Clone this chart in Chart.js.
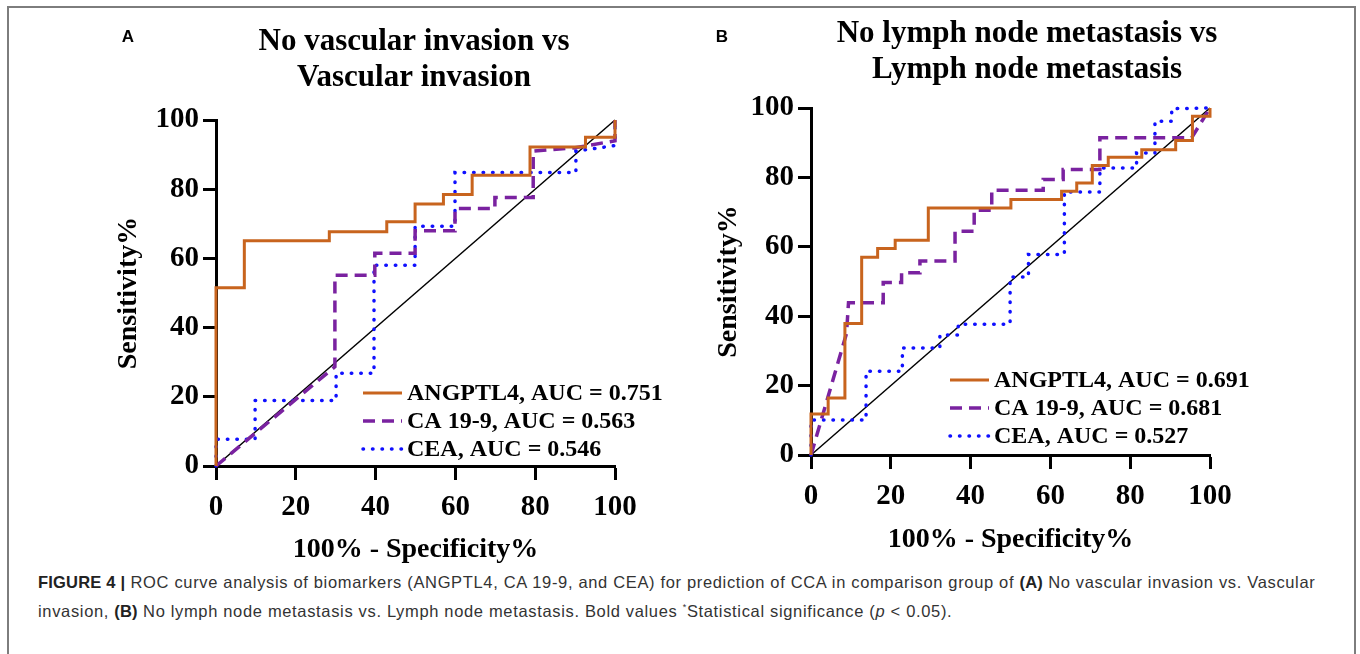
<!DOCTYPE html>
<html>
<head>
<meta charset="utf-8">
<script src="https://cdn.jsdelivr.net/npm/chart.js@4.4.1/dist/chart.umd.min.js"></script>
<style>
  body { margin: 0; width: 1360px; height: 654px; background: #fff; overflow: hidden; position: relative; }
  #frame { position: absolute; left: 7px; top: 6px; width: 1349px; height: 720px; border: 2px solid #7d7d7d; box-sizing: border-box; }
  #wrapA { position: absolute; left: 0; top: 0; }
  #wrapB { position: absolute; left: 680px; top: 0; }
  #caption { position: absolute; left: 38px; top: 570px; font-family: "Liberation Sans", Arial, sans-serif; font-size: 16.5px; letter-spacing: 0.66px; line-height: 25px; color: #333; white-space: nowrap; }
  #caption b { color: #222; letter-spacing: 0.2px; }
  #caption sup { font-size: 9px; }
</style>
</head>
<body>
<div id="frame"></div>
<div id="wrapA"><canvas id="chartA" width="680" height="567"></canvas></div>
<div id="wrapB"><canvas id="chartB" width="680" height="557"></canvas></div>
<div id="caption"><b>FIGURE 4 |</b> ROC curve analysis of biomarkers (ANGPTL4, CA 19-9, and CEA) for prediction of CCA in comparison group of <b>(A)</b> No vascular invasion vs. Vascular<br>invasion, <b>(B)</b> No lymph node metastasis vs. Lymph node metastasis. Bold values <sup>*</sup>Statistical significance (<i>p</i> &lt; 0.05).</div>
<script>
// ROC curves: x = 100% - Specificity%, y = Sensitivity%

// A: No vascular invasion vs Vascular invasion
const angptl4A_x = [0, 0, 7.1, 7.1, 28.4, 28.4, 42.8, 42.8, 49.9, 49.9, 57, 57, 64.2, 64.2, 78.7, 78.7, 92.6, 92.6, 100, 100];
const angptl4A_y = [0, 51.5, 51.5, 65.1, 65.1, 67.7, 67.7, 70.6, 70.6, 75.7, 75.7, 78.5, 78.5, 84, 84, 92.2, 92.2, 95, 95, 100];
const ca199A_x = [0, 29.8, 29.8, 39.8, 39.8, 49.9, 49.9, 59.9, 59.9, 69.9, 69.9, 79.5, 79.5, 90, 100, 100];
const ca199A_y = [0, 28.7, 55.1, 55.1, 61.5, 61.5, 68, 68, 74.4, 74.4, 77.6, 77.6, 91, 92, 94, 100];
const ceaA_x = [0, 0, 9.8, 9.8, 30.1, 30.1, 39.6, 39.6, 49.9, 49.9, 59.9, 59.9, 90.2, 90.2, 100, 100];
const ceaA_y = [0, 7.7, 7.7, 18.9, 18.9, 26.8, 26.8, 58, 58, 69.3, 69.3, 84.8, 84.8, 91, 92.6, 100];

// B: No lymph node metastasis vs Lymph node metastasis
const angptl4B_x = [0, 0, 4.3, 4.3, 8.5, 8.5, 12.7, 12.7, 16.7, 16.7, 21.1, 21.1, 29.4, 29.4, 50.1, 50.1, 62.8, 62.8, 66.6, 66.6, 70.5, 70.5, 74.5, 74.5, 82.9, 82.9, 91.4, 91.4, 95.6, 95.6, 100, 100];
const angptl4B_y = [0, 11.8, 11.8, 16.4, 16.4, 37.9, 37.9, 57, 57, 59.5, 59.5, 61.9, 61.9, 71.2, 71.2, 73.6, 73.6, 76, 76, 78.4, 78.4, 83.4, 83.4, 85.8, 85.8, 88, 88, 90.6, 90.6, 97.6, 97.6, 100];
const ca199B_x = [0, 8.9, 9.4, 18.1, 18.1, 22.7, 22.7, 27.3, 27.3, 36.1, 36.1, 40.9, 40.9, 45.3, 45.3, 58.2, 58.2, 63.2, 63.2, 72.4, 72.4, 95.4, 100];
const ca199B_y = [0, 35, 43.9, 43.9, 49.7, 49.7, 52.5, 52.5, 55.9, 55.9, 64.5, 64.5, 70.5, 70.5, 76.3, 76.3, 79.4, 79.4, 82.3, 82.3, 91.4, 91.4, 100];
const ceaB_x = [0, 0, 13.8, 13.8, 22.9, 22.9, 32.3, 32.3, 36.9, 36.9, 49.9, 49.9, 54.5, 54.5, 63.5, 63.5, 72.4, 72.4, 81.6, 81.6, 86.2, 86.2, 90.4, 90.4, 100];
const ceaB_y = [0, 10.1, 10.1, 24.1, 24.1, 30.8, 30.8, 34.6, 34.6, 37.7, 37.7, 51.3, 51.3, 57.8, 57.8, 75.8, 75.8, 82.7, 82.7, 87, 87, 96.2, 96.2, 99.8, 100];

const diag_x = [0, 100];
const diag_y = [0, 100];

const aucA = ['0.751', '0.563', '0.546'];
const aucB = ['0.691', '0.681', '0.527'];
const axisTicks = [0, 20, 40, 60, 80, 100];

const SERIF = '"Liberation Serif", "Times New Roman", serif';
const COLORS = { angptl4: '#c8641e', ca199: '#7a22a0', cea: '#1010ff' };

function pts(xs, ys) {
    return xs.map((x, i) => ({ x, y: ys[i] }));
}

function rocDatasets(a, c, e, auc) {
    return [
        { label: 'ANGPTL4, AUC = ' + auc[0], data: a, borderColor: COLORS.angptl4, borderWidth: 3 },
        { label: 'CA 19-9, AUC = ' + auc[1], data: c, borderColor: COLORS.ca199, borderWidth: 3.5, borderDash: [12, 7] },
        { label: 'CEA, AUC = ' + auc[2], data: e, borderColor: COLORS.cea, borderWidth: 3.5, borderDash: [0.5, 9], borderCapStyle: 'round' },
        { label: '', data: pts(diag_x, diag_y), borderColor: '#000', borderWidth: 1.5 }
    ].map(ds => Object.assign({ pointRadius: 0, fill: false, tension: 0, clip: 6 }, ds));
}

// titles + panel letter
const titlePlugin = {
    id: 'panelTitle',
    afterDraw(chart, args, opts) {
        const ctx = chart.ctx;
        ctx.save();
        ctx.fillStyle = '#000';
        ctx.textAlign = 'center';
        ctx.textBaseline = 'middle';
        ctx.font = 'bold 31px ' + SERIF;
        opts.lines.forEach((t, i) => ctx.fillText(t, opts.x, opts.y + i * 36));
        ctx.font = 'bold 17px "Liberation Sans", Arial, sans-serif';
        ctx.fillText(opts.letter, opts.letterX, 37);
        ctx.restore();
    }
};

// legend drawn inside the plot
const rocLegend = {
    id: 'rocLegend',
    afterDatasetsDraw(chart, args, opts) {
        const ctx = chart.ctx;
        ctx.save();
        ctx.font = 'bold 24px ' + SERIF;
        ctx.textBaseline = 'middle';
        ctx.textAlign = 'left';
        chart.data.datasets.filter(ds => ds.label).forEach((ds, i) => {
            const y = opts.y + i * opts.gap;
            ctx.strokeStyle = ds.borderColor;
            ctx.lineWidth = ds.borderWidth;
            ctx.lineCap = ds.borderCapStyle || 'butt';
            ctx.setLineDash(ds.borderDash || []);
            ctx.beginPath();
            ctx.moveTo(opts.x, y);
            ctx.lineTo(opts.x + 39, y);
            ctx.stroke();
            ctx.setLineDash([]);
            ctx.fillStyle = '#000';
            ctx.fillText(ds.label, opts.x + 44, y + 1);
        });
        ctx.restore();
    }
};

function axisFont() {
    return { family: SERIF, weight: 'bold', size: 29 };
}

function makeChart(id, datasets, cfg) {
    const ctx = document.getElementById(id).getContext('2d');
    return new Chart(ctx, {
        type: 'line',
        data: { datasets },
        plugins: [titlePlugin, rocLegend],
        options: {
            responsive: false,
            animation: false,
            layout: { padding: { left: cfg.padLeft, right: cfg.padRight, top: cfg.padTop, bottom: 0 } },
            scales: {
                x: {
                    type: 'linear', min: 0, max: 100,
                    afterFit: s => { s.height = cfg.xHeight; },
                    afterBuildTicks: s => { s.ticks = axisTicks.map(v => ({ value: v })); },
                    ticks: { color: '#000', font: axisFont(), padding: 10, maxRotation: 0 },
                    grid: { drawOnChartArea: false, drawTicks: true, tickLength: 14, tickWidth: 3, tickColor: '#000' },
                    border: { width: 3, color: '#000' },
                    title: { display: true, text: '100% - Specificity%', color: '#000', font: { family: SERIF, weight: 'bold', size: 28 }, padding: 0 }
                },
                y: {
                    min: 0, max: 100,
                    afterFit: s => { s.width = cfg.yWidth; },
                    afterBuildTicks: s => { s.ticks = axisTicks.map(v => ({ value: v })); },
                    ticks: { color: '#000', font: axisFont(), padding: 4 },
                    grid: { drawOnChartArea: false, drawTicks: true, tickLength: 13, tickWidth: 3, tickColor: '#000' },
                    border: { width: 3, color: '#000' },
                    title: { display: true, text: 'Sensitivity%', color: '#000', font: { family: SERIF, weight: 'bold', size: 28 }, padding: 0 }
                }
            },
            plugins: {
                legend: { display: false },
                tooltip: { enabled: false },
                panelTitle: cfg.title,
                rocLegend: cfg.legend
            }
        }
    });
}

makeChart('chartA',
    rocDatasets(pts(angptl4A_x, angptl4A_y), pts(ca199A_x, ca199A_y), pts(ceaA_x, ceaA_y), aucA),
    {
        padLeft: 112, yWidth: 104, padRight: 65, padTop: 120, xHeight: 101,
        title: { lines: ['No vascular invasion vs', 'Vascular invasion'], x: 414, y: 42, letter: 'A', letterX: 128 },
        legend: { x: 363, y: 393, gap: 28 }
    });

makeChart('chartB',
    rocDatasets(pts(angptl4B_x, angptl4B_y), pts(ca199B_x, ca199B_y), pts(ceaB_x, ceaB_y), aucB),
    {
        padLeft: 32, yWidth: 99, padRight: 150, padTop: 108, xHeight: 102,
        title: { lines: ['No lymph node metastasis vs', 'Lymph node metastasis'], x: 347, y: 34, letter: 'B', letterX: 42 },
        legend: { x: 270, y: 380, gap: 28 }
    });
</script>
</body>
</html>
